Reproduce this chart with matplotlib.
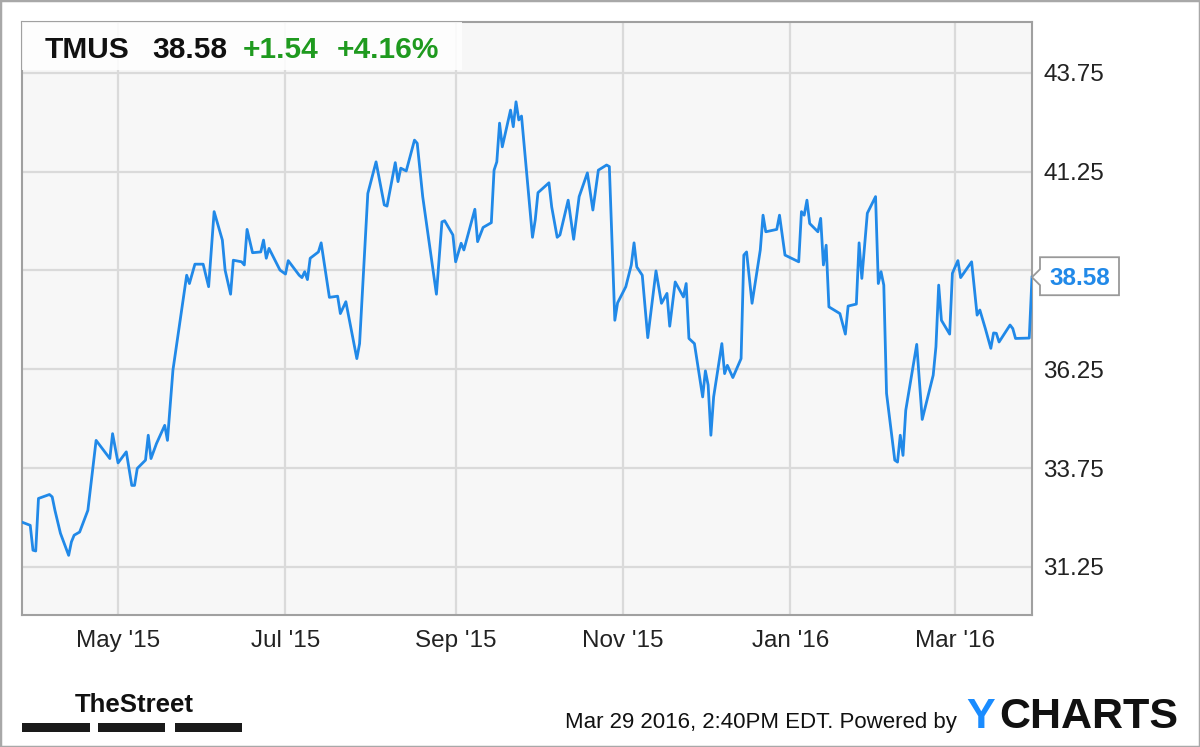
import matplotlib
matplotlib.use("Agg")
import matplotlib.pyplot as plt
import matplotlib.dates as mdates
from matplotlib import font_manager
from matplotlib.patches import Rectangle, Polygon
from matplotlib.transforms import IdentityTransform
import numpy as np
import pandas as pd

ticker = "TMUS"

dates = [
    "2015-03-27", "2015-03-30", "2015-03-31", "2015-04-01", "2015-04-02", "2015-04-06",
    "2015-04-07", "2015-04-08", "2015-04-10", "2015-04-13", "2015-04-14", "2015-04-15",
    "2015-04-17", "2015-04-20", "2015-04-23", "2015-04-28", "2015-04-29", "2015-05-01",
    "2015-05-04", "2015-05-06", "2015-05-07", "2015-05-08", "2015-05-11", "2015-05-12",
    "2015-05-13", "2015-05-15", "2015-05-18", "2015-05-19", "2015-05-21", "2015-05-26",
    "2015-05-27", "2015-05-29", "2015-06-01", "2015-06-03", "2015-06-05", "2015-06-08",
    "2015-06-09", "2015-06-11", "2015-06-12", "2015-06-15", "2015-06-16", "2015-06-17",
    "2015-06-19", "2015-06-22", "2015-06-23", "2015-06-24", "2015-06-25", "2015-06-29",
    "2015-07-01", "2015-07-02", "2015-07-06", "2015-07-07", "2015-07-08", "2015-07-09",
    "2015-07-10", "2015-07-13", "2015-07-14", "2015-07-17", "2015-07-20", "2015-07-21",
    "2015-07-23", "2015-07-27", "2015-07-28", "2015-07-31", "2015-08-03", "2015-08-06",
    "2015-08-07", "2015-08-10", "2015-08-11", "2015-08-12", "2015-08-14", "2015-08-17",
    "2015-08-18", "2015-08-20", "2015-08-25", "2015-08-27", "2015-08-28", "2015-08-31",
    "2015-09-01", "2015-09-03", "2015-09-04", "2015-09-08", "2015-09-09", "2015-09-11",
    "2015-09-14", "2015-09-15", "2015-09-16", "2015-09-17", "2015-09-18", "2015-09-21",
    "2015-09-22", "2015-09-23", "2015-09-24", "2015-09-25", "2015-09-29", "2015-09-30",
    "2015-10-01", "2015-10-05", "2015-10-06", "2015-10-08", "2015-10-09", "2015-10-12",
    "2015-10-14", "2015-10-16", "2015-10-19", "2015-10-21", "2015-10-23", "2015-10-26",
    "2015-10-27", "2015-10-29", "2015-10-30", "2015-11-02", "2015-11-04", "2015-11-05",
    "2015-11-06", "2015-11-08", "2015-11-10", "2015-11-13", "2015-11-15", "2015-11-17",
    "2015-11-18", "2015-11-20", "2015-11-23", "2015-11-24", "2015-11-25", "2015-11-27",
    "2015-11-30", "2015-12-01", "2015-12-02", "2015-12-03", "2015-12-04", "2015-12-07",
    "2015-12-08", "2015-12-09", "2015-12-11", "2015-12-14", "2015-12-15", "2015-12-16",
    "2015-12-18", "2015-12-21", "2015-12-22", "2015-12-23", "2015-12-27", "2015-12-28",
    "2015-12-30", "2016-01-04", "2016-01-05", "2016-01-06", "2016-01-07", "2016-01-08",
    "2016-01-11", "2016-01-12", "2016-01-13", "2016-01-14", "2016-01-15", "2016-01-19",
    "2016-01-21", "2016-01-22", "2016-01-25", "2016-01-26", "2016-01-27", "2016-01-29",
    "2016-02-01", "2016-02-02", "2016-02-03", "2016-02-04", "2016-02-05", "2016-02-08",
    "2016-02-09", "2016-02-10", "2016-02-11", "2016-02-12", "2016-02-16", "2016-02-18",
    "2016-02-22", "2016-02-23", "2016-02-24", "2016-02-25", "2016-02-28", "2016-02-29",
    "2016-03-02", "2016-03-03", "2016-03-07", "2016-03-09", "2016-03-10", "2016-03-12",
    "2016-03-14", "2016-03-15", "2016-03-16", "2016-03-17", "2016-03-21", "2016-03-22",
    "2016-03-23", "2016-03-28", "2016-03-29",
]

prices = [
    32.38, 32.30, 31.67, 31.65, 32.98, 33.08,
    33.02, 32.68, 32.10, 31.54, 31.88, 32.05,
    32.13, 32.68, 34.45, 33.99, 34.62, 33.88,
    34.16, 33.31, 33.31, 33.74, 33.95, 34.58,
    33.99, 34.37, 34.83, 34.45, 36.23, 38.63,
    38.42, 38.91, 38.91, 38.34, 40.24, 39.52,
    38.76, 38.15, 39.01, 38.97, 38.89, 39.79,
    39.20, 39.22, 39.52, 39.06, 39.31, 38.76,
    38.66, 39.00, 38.63, 38.57, 38.72, 38.52,
    39.06, 39.22, 39.45, 38.07, 38.10, 37.66,
    37.96, 36.52, 36.90, 40.70, 41.50, 40.41,
    40.38, 41.48, 41.00, 41.34, 41.27, 42.05,
    41.97, 40.62, 38.15, 39.98, 40.01, 39.65,
    38.97, 39.44, 39.27, 40.30, 39.48, 39.84,
    39.96, 41.29, 41.50, 42.48, 41.88, 42.81,
    42.39, 43.02, 42.56, 42.66, 39.59, 40.03,
    40.72, 40.97, 40.36, 39.59, 39.65, 40.53,
    39.54, 40.62, 41.22, 40.28, 41.29, 41.42,
    41.38, 37.49, 37.93, 38.34, 38.89, 39.45,
    38.84, 38.63, 37.05, 38.74, 37.92, 38.17,
    37.34, 38.46, 38.08, 38.42, 37.03, 36.90,
    35.55, 36.21, 35.85, 34.58, 35.55, 36.90,
    36.14, 36.35, 36.04, 36.52, 39.14, 39.22,
    37.92, 39.27, 40.15, 39.73, 39.79, 40.15,
    39.14, 38.97, 40.24, 40.15, 40.53, 39.94,
    39.73, 40.07, 38.89, 39.39, 37.83, 37.66,
    37.14, 37.85, 37.90, 39.45, 38.55, 40.20,
    40.62, 38.42, 38.72, 38.38, 35.64, 33.95,
    33.90, 34.58, 34.07, 35.21, 36.88, 34.98,
    36.10, 36.82, 38.38, 37.49, 37.14, 38.68,
    39.00, 38.57, 38.97, 37.62, 37.75, 37.28,
    36.78, 37.17, 37.16, 36.94, 37.37, 37.28,
    37.03, 37.04, 38.58,
]

y_ticks = [31.25, 33.75, 36.25, 38.75, 41.25, 43.75]
timestamp = "Mar 29 2016, 2:40PM EDT. Powered by"

names = {f.name for f in font_manager.fontManager.ttflist}
narrow = "Liberation Sans Narrow" if "Liberation Sans Narrow" in names else "Liberation Sans"
plt.rcParams["font.family"] = ["Liberation Sans", "DejaVu Sans"]

W, H = 1200, 747
fig = plt.figure(figsize=(W / 100, H / 100), dpi=100)
fig.patch.set_facecolor("white")

def fx(px):
    return px / W

def fy(py):
    return 1 - py / H

ax = fig.add_axes([fx(22), fy(615), fx(1032) - fx(22), fy(22) - fy(615)])
ax.set_facecolor("#f7f7f7")

x = pd.to_datetime(dates)
blue = "#2189e8"
ax.plot(x, prices, color=blue, lw=2.0, solid_joinstyle="round", zorder=3)

ax.set_xlim(pd.Timestamp("2015-03-27"), pd.Timestamp("2016-03-29"))
ax.set_ylim(30.03, 45.04)

ax.xaxis.set_major_locator(mdates.MonthLocator(bymonth=[1, 3, 5, 7, 9, 11]))
ax.xaxis.set_major_formatter(mdates.DateFormatter("%b '%y"))
ax.yaxis.tick_right()
ax.set_yticks(y_ticks)
ax.set_yticklabels(["" if abs(t - 38.75) < 0.01 else f"{t:.2f}" for t in y_ticks])
ax.tick_params(axis="both", length=0, labelsize=17.5, labelcolor="#222222")
ax.tick_params(axis="y", pad=8)
ax.tick_params(axis="x", pad=11)
ax.grid(True, color="#dadada", lw=1.6)
ax.set_axisbelow(True)
for s in ax.spines.values():
    s.set_color("#a0a0a0")
    s.set_linewidth(1.5)

# header box with quote
fig.add_artist(Rectangle((fx(22), fy(70)), fx(462) - fx(22), fy(22) - fy(70),
                         transform=fig.transFigure, facecolor="white", alpha=0.85,
                         edgecolor="none", zorder=2))
last = prices[-1]
prev = prices[-2]
chg = last - prev
pct = chg / prev * 100
green = "#1f9a1f"
hdr_y = fy(58)
fig.text(fx(45), hdr_y, ticker, fontsize=21.5, fontweight="bold", color="#111111", va="baseline", zorder=4)
fig.text(fx(152), hdr_y, f"{last:.2f}", fontsize=21.5, fontweight="bold", color="#111111", va="baseline", zorder=4)
fig.text(fx(243), hdr_y, f"{chg:+.2f}", fontsize=21.5, fontweight="bold", color=green, va="baseline", zorder=4)
fig.text(fx(337), hdr_y, f"{pct:+.2f}%", fontsize=21.5, fontweight="bold", color=green, va="baseline", zorder=4)

# last price tag on the right axis
fig.canvas.draw()
ty = ax.transData.transform((mdates.date2num(x[-1]), last))[1]
tx = ax.transAxes.transform((1, 0))[0]
tag = [(tx, ty), (tx + 8, ty + 8), (tx + 8, ty + 20), (tx + 87, ty + 20),
       (tx + 87, ty - 18), (tx + 8, ty - 18), (tx + 8, ty - 8)]
fig.add_artist(Polygon(tag, closed=True, transform=IdentityTransform(),
                       facecolor="white", edgecolor="#999999", lw=1.3, zorder=5))
fig.text((tx + 47.5) / W, (ty - 1) / H, f"{last:.2f}", ha="center", va="center",
         fontsize=17.5, fontweight="bold", color=blue, zorder=6)

# footer
fig.text(fx(75), fy(712), "TheStreet", fontsize=18.5, fontweight="bold",
         family=[narrow, "DejaVu Sans"], color="#111111", va="baseline")
for bx0, bx1 in [(22, 90), (98, 165), (175, 242)]:
    fig.add_artist(Rectangle((fx(bx0), fy(732)), fx(bx1) - fx(bx0), fy(723) - fy(732),
                             transform=fig.transFigure, facecolor="#1a1a1a", edgecolor="none"))
fig.text(fx(565), fy(728), timestamp, fontsize=16, color="#111111", va="baseline")
fig.text(fx(966), fy(728), "Y", fontsize=31, fontweight="bold", color="#1a8cff", va="baseline")
fig.text(fx(1178), fy(728), "CHARTS", fontsize=31, fontweight="bold", color="#111111",
         va="baseline", ha="right")

# outer frame
fig.add_artist(Rectangle((0, 0), 1, 1, transform=fig.transFigure, fill=False,
                         edgecolor="#a8a8a8", lw=2.5))

fig.savefig("out.png", dpi=100)
